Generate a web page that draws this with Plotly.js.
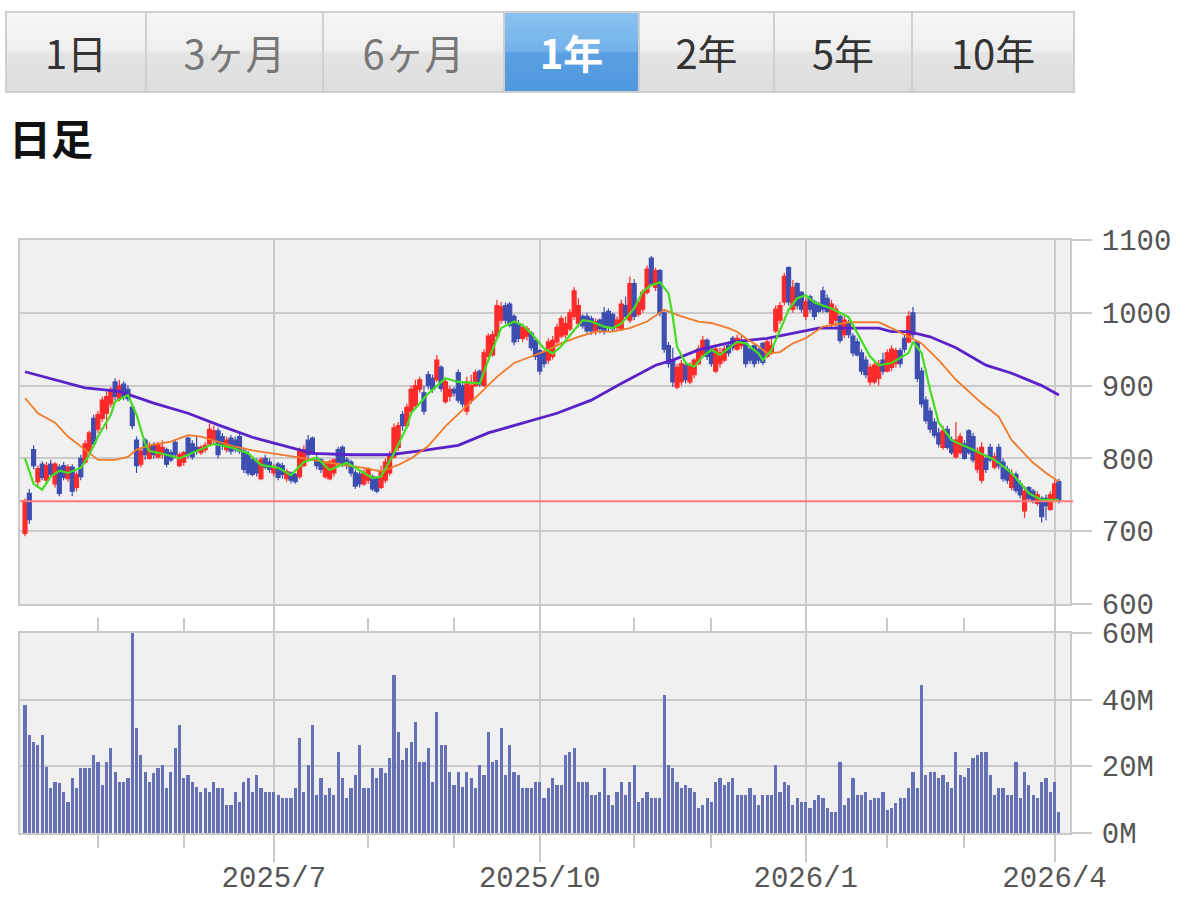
<!DOCTYPE html>
<html>
<head>
<meta charset="utf-8">
<script src="https://cdn.plot.ly/plotly-3.0.1.min.js"></script>
<style>
  html, body { margin:0; padding:0; background:#fff; overflow:hidden; }
  #wrap { position:relative; width:1200px; height:901px; }
  #chart { position:absolute; left:0; top:0; width:1200px; height:901px; }
  #tabs { position:absolute; left:5px; top:11px; width:1066px; height:78px; border:2px solid #cfcfcf; display:flex; z-index:2; }
  .tab { height:78px; display:flex; align-items:center; justify-content:center; font-family:"Noto Sans CJK JP","Noto Sans",sans-serif; font-size:40px; color:#333;
         background:linear-gradient(#f6f6f6 0%, #efefef 48%, #e4e4e4 52%, #dddddd 100%); border-right:2px solid #cfcfcf; box-sizing:border-box; }
  .tab:last-child { border-right:none; }
  .tab.dim { color:#777; }
  .tab.sel { color:#fff; font-weight:bold; background:linear-gradient(#8ac2f1 0%, #72b2ea 48%, #5a9fe2 52%, #4f98de 100%); }
  #title { position:absolute; left:9px; top:106px; font-family:"Noto Sans CJK JP","Noto Sans",sans-serif; font-size:42px; font-weight:bold; color:#111; z-index:2; }
</style>
</head>
<body>
<div id="wrap">
  <div id="chart"></div>
  <div id="tabs"></div>
  <div id="title">日足</div>
</div>
<script>
// ---- tab bar ----
const tabLabels = ['1日', '3ヶ月', '6ヶ月', '1年', '2年', '5年', '10年'];
const tabWidths = [140, 177, 181, 135, 135, 138, 160];
const tabClass  = ['', 'dim', 'dim', 'sel', '', '', ''];

// ---- x axis (trading-day positions) ----
const majorTickIdx   = [58, 120, 182, 240];
const majorTickLabel = ['2025/7', '2025/10', '2026/1', '2026/4'];
const minorTickIdx   = [17, 37, 80, 100, 142, 160, 201, 219];

// ---- daily candles (Apr 7 2025 .. Apr 2 2026) ----
const open = [
 697,752,812,768,792,770,792,765,788,790, 772,788,760,800,795,810,855,840,855,862,
 875,905,882,902,895,870,825,792,825,800, 818,802,805,812,808,822,790,795,828,820,
 815,808,812,820,825,838,830,812,828,825, 830,810,805,798,795,772,800,795,780,792,
 790,772,780,778,775,790,825,828,800,798, 775,772,780,812,815,798,795,780,778,765,
 770,775,772,760,770,780,802,815,860,845, 865,872,895,890,915,910,908,925,878,885,
 895,918,900,865,880,900,920,900,940,942, 968,990,1010,1012,995,985,965,968,972,962,
 948,945,935,940,960,968,970,978,995,985, 995,995,992,975,990,1000,1002,998,980,978,
 1010,990,1040,998,1005,1028,1075,1035,1058,1000, 955,935,898,905,928,905,915,930,942,962,
 950,920,930,935,955,965,950,955,958,950, 955,950,958,940,945,975,990,1015,1062,1005,
 1040,1028,995,1022,1015,1012,1030,1020,985,990, 995,970,985,968,960,945,935,905,905,910,
 935,920,925,930,948,965,960,1000,960,920, 880,865,850,835,815,840,825,802,808,820,
 838,830,785,770,800,815,788,815,795,785, 760,778,765,728,760,755,738,745,745,730,
 745,768];
const high = [
 745,758,818,790,796,795,798,795,792,795, 792,792,782,805,825,838,860,865,885,892,
 898,910,908,906,900,875,830,815,828,822, 822,823,825,815,812,826,808,810,830,825,
 830,818,822,848,845,842,835,830,832,830, 833,815,810,802,800,802,805,800,792,795,
 794,785,782,780,815,818,832,830,805,800, 795,798,800,816,818,802,798,784,782,785,
 788,778,775,790,800,810,848,850,865,875, 900,908,912,900,920,915,942,928,910,900,
 898,922,905,912,915,922,922,950,972,975, 1018,1015,1014,1015,998,990,985,982,975,966,
 950,948,965,968,985,996,995,1005,1035,1020, 998,1000,996,992,992,1008,1006,1000,995,1018,
 1022,1050,1046,1020,1032,1065,1078,1062,1060,1002, 960,952,930,935,932,932,938,955,968,965,
 953,955,952,955,958,968,970,968,960,952, 958,952,960,965,965,1010,1015,1055,1064,1045,
 1042,1030,1020,1025,1018,1015,1036,1025,1018,1010, 998,995,990,972,965,950,940,930,932,935,
 945,950,955,952,952,970,1002,1008,962,925, 885,870,855,842,845,845,830,850,835,825,
 840,835,815,822,805,820,808,820,800,790, 785,782,770,762,762,758,755,748,750,755,
 770,772];
const low = [
 693,710,785,760,770,765,775,760,748,770, 768,748,755,770,792,805,815,835,850,840,
 870,880,878,880,878,840,780,788,798,798, 800,800,800,788,795,800,788,790,800,798,
 805,805,808,818,820,800,812,808,805,808, 806,780,776,775,775,770,785,780,775,770,
 772,768,766,765,772,788,800,805,785,780, 772,770,775,790,788,785,775,758,760,762,
 765,755,752,758,766,776,800,810,838,842, 860,868,890,860,895,890,905,892,875,878,
 885,876,870,860,875,898,898,898,938,940, 965,985,985,980,955,960,960,962,948,935,
 915,925,930,936,955,965,965,975,990,980, 978,972,970,970,972,970,975,975,976,975,
 990,986,990,995,1000,1025,1036,1030,995,945, 925,898,895,900,903,902,910,928,940,935,
 926,917,925,932,940,948,948,950,925,930, 925,930,928,938,942,972,985,1010,1010,1000,
 1005,1000,990,1000,990,1000,1000,1000,980,980, 958,965,965,940,940,915,910,900,902,900,
 915,918,920,925,925,945,958,965,905,870, 848,835,828,815,812,812,805,800,805,798,
 805,794,780,766,780,795,785,785,768,765, 756,752,745,718,740,738,735,712,715,728,
 740,738];
const close = [
 742,716,790,786,774,790,778,792,752,774, 788,755,778,775,820,835,820,860,880,885,
 895,885,900,885,882,845,790,810,805,818, 805,820,815,792,798,805,805,808,805,802,
 810,815,818,840,838,805,818,825,810,812, 810,785,780,778,780,798,788,785,788,774,
 778,782,770,768,810,812,805,808,790,785, 792,795,798,795,792,790,780,762,765,780,
 785,758,755,782,795,805,842,845,845,870, 895,900,908,865,900,895,935,896,905,895,
 890,880,875,905,900,918,902,945,968,970, 1010,1008,990,983,960,965,980,978,952,940,
 920,930,960,962,980,992,985,1000,1030,1010, 982,975,975,988,978,975,980,978,990,1012,
 995,1040,995,1015,1028,1060,1040,1058,1000,950, 930,905,925,930,908,928,935,950,962,940,
 930,950,945,950,945,952,965,962,930,935, 930,935,932,960,955,1005,1010,1050,1015,1035,
 1010,1005,1015,1005,995,1002,1005,1002,1012,1005, 962,990,970,945,942,920,915,925,928,930,
 920,945,950,948,930,950,995,970,910,875, 852,840,832,820,838,815,808,825,830,800,
 808,798,810,815,785,798,802,790,772,770, 778,756,750,755,745,742,750,720,735,750,
 765,741];

// ---- daily volume (millions of shares) ----
const volume = [
 38.4,29.4,27.4,26.4,29.4,19.9,13.4,15.4,14.9,12.4, 9.4,16.4,13.4,19.4,19.4,19.4,23.4,21.4,14.4,21.4,
 25.4,18.4,15.4,15.4,16.4,60.0,31.4,23.4,18.4,15.4, 17.9,19.4,20.4,13.4,18.4,25.4,32.4,16.4,17.4,15.4,
 13.9,12.4,13.4,12.4,15.4,13.4,13.4,8.4,8.4,12.4, 9.4,15.4,16.4,12.4,17.4,13.4,12.4,12.4,12.4,11.4,
 10.4,10.4,10.4,13.4,28.4,12.4,20.4,32.4,11.4,16.4, 11.4,13.4,11.4,24.4,16.4,10.4,13.4,17.4,26.4,13.4,
 13.4,19.4,16.4,19.4,17.9,22.4,47.4,30.4,22.0,25.4, 27.4,33.4,21.4,21.4,25.4,15.4,36.4,26.4,26.4,18.4,
 14.4,18.4,13.9,18.4,16.4,13.4,20.4,17.4,30.4,21.4, 22.0,31.4,17.4,26.4,18.4,17.4,13.4,13.4,13.4,15.4,
 15.4,10.4,13.4,16.4,14.4,14.4,23.4,24.4,25.4,15.4, 15.4,15.4,11.4,11.4,12.4,19.4,11.4,8.4,12.4,15.4,
 11.4,15.4,20.4,9.4,10.4,12.4,10.4,10.4,10.4,41.4, 20.4,19.4,15.4,13.4,14.4,13.4,12.4,7.4,8.4,10.4,
 9.4,15.4,16.4,14.4,15.4,16.4,11.4,11.4,11.4,13.4, 11.4,8.4,11.4,11.4,11.4,20.4,12.4,15.4,14.4,8.4,
 10.4,9.4,9.4,7.4,9.9,11.4,10.4,7.4,6.4,6.4, 21.4,8.4,10.4,16.4,11.4,11.4,12.4,9.9,10.4,10.4,
 12.4,6.9,7.4,8.9,10.4,10.4,13.4,18.4,13.4,44.4, 17.4,18.4,18.4,16.4,17.4,15.4,13.4,24.4,17.4,16.9,
 19.4,22.4,23.4,24.4,24.4,17.4,11.4,13.4,13.4,11.4, 11.4,21.4,10.4,18.4,14.4,11.4,10.4,15.4,16.4,12.4,
 15.4,6.4];

// ---- moving averages (trading-day position, value) ----
const ma5Idx = [0,2,4,6,8,10,13,15,17,20,21,24,26,28,29,33,36,41,44,48,52,55,59,62,65,68,71,75,79,81,83,86,89,90,94,98,101,106,108,111,114,116,118,121,123,125,128,130,132,135,137,139,142,144,146,148,150,151,152,154,156,158,160,162,164,166,168,171,172,174,176,178,180,182,184,188,192,194,197,199,202,206,207,209,211,213,216,221,226,230,234,237,241];
const ma5Val = [800,765,757,775,783,780,787,805,830,860,878,887,860,820,810,805,800,812,820,815,807,791,787,777,795,801,784,794,780,773,775,807,843,862,889,910,905,903,935,979,988,983,972,951,944,954,976,990,988,981,979,985,1006,1029,1038,1042,1027,995,953,931,926,940,949,942,951,960,958,944,935,949,976,1004,1020,1024,1014,1006,994,972,940,928,931,945,960,945,894,849,825,812,798,780,752,743,743];

const ma25Idx = [0,3,7,10,14,17,21,24,26,29,34,38,41,45,49,53,55,63,71,79,83,87,90,94,98,102,106,110,114,118,122,125,129,133,137,141,145,149,153,157,160,164,166,168,171,173,176,179,182,186,192,199,202,206,209,213,217,223,227,230,235,238,241];
const ma25Val = [883,862,849,830,812,798,798,802,812,818,823,832,830,823,816,811,809,802,794,787,782,791,800,817,844,866,889,912,931,940,949,958,967,974,974,979,988,1004,995,988,986,979,974,965,954,944,946,958,965,981,987,987,979,967,958,935,908,876,857,825,794,780,768];

const ma75Idx = [0,7,14,22,30,38,45,53,63,67,76,85,93,101,108,116,124,132,139,147,151,157,165,173,181,185,199,202,206,211,217,224,230,237,241];
const ma75Val = [919,908,897,892,876,862,846,829,814,807,805,805,811,818,835,849,862,880,903,928,935,949,960,965,974,979,979,974,974,967,952,928,917,900,887];

const lastPrice = 741;

// ---- build ----
const tabsEl = document.getElementById('tabs');
tabLabels.forEach((t, k) => {
  const d = document.createElement('div');
  d.className = 'tab ' + tabClass[k];
  d.style.width = tabWidths[k] + 'px';
  d.textContent = t;
  tabsEl.appendChild(d);
});

const dayPos = close.map((_, i) => i);
const tickFont = {family:'Liberation Mono, DejaVu Sans Mono, monospace', size:29, color:'#555'};
const GRID = '#cacaca';

const traces = [
  {
    type:'candlestick', x:dayPos, open:open, high:high, low:low, close:close,
    xaxis:'x', yaxis:'y', hoverinfo:'skip', whiskerwidth:0,
    increasing:{line:{color:'#ff2a2a', width:1.2}, fillcolor:'#ff2a2a'},
    decreasing:{line:{color:'#3e4db0', width:1.2}, fillcolor:'#3e4db0'}
  },
  {type:'scatter', mode:'lines', x:ma75Idx, y:ma75Val, xaxis:'x', yaxis:'y', hoverinfo:'skip',
   line:{color:'#5a22c8', width:2.8}},
  {type:'scatter', mode:'lines', x:ma25Idx, y:ma25Val, xaxis:'x', yaxis:'y', hoverinfo:'skip',
   line:{color:'#f07a2a', width:1.8}},
  {type:'scatter', mode:'lines', x:ma5Idx, y:ma5Val, xaxis:'x', yaxis:'y', hoverinfo:'skip',
   line:{color:'#44dd22', width:2.2}},
  {type:'bar', x:dayPos, y:volume, xaxis:'x', yaxis:'y2', hoverinfo:'skip',
   width:0.74, marker:{color:'#6670b4', line:{width:0}}}
];

const yCommon = {
  side:'right', ticks:'outside', ticklen:20, tickwidth:2, tickcolor:GRID,
  showgrid:true, gridcolor:GRID, gridwidth:2, zeroline:false,
  showline:true, linecolor:GRID, linewidth:2, mirror:true,
  tickfont:tickFont, ticklabelstandoff:4, fixedrange:true
};

const layout = {
  width:1200, height:901,
  margin:{l:20, r:130, t:240, b:68},
  paper_bgcolor:'rgba(0,0,0,0)', plot_bgcolor:'#f0f0f0',
  showlegend:false, boxgap:0.08, boxgroupgap:0, bargap:0,
  xaxis:{
    anchor:'y2', range:[-1.17, 243.6], tickmode:'array',
    tickvals:majorTickIdx, ticktext:majorTickLabel,
    ticks:'outside', ticklen:27, tickwidth:2, tickcolor:GRID,
    showgrid:true, gridcolor:GRID, gridwidth:2, zeroline:false,
    showline:true, linecolor:GRID, linewidth:2, mirror:'all',
    tickfont:tickFont, ticklabelstandoff:-10, rangeslider:{visible:false}, fixedrange:true,
    minor:{tickmode:'array', tickvals:minorTickIdx, ticks:'outside', ticklen:13, tickwidth:2, tickcolor:GRID, showgrid:false}
  },
  yaxis:Object.assign({}, yCommon, {domain:[0.3862, 1], range:[600, 1100], dtick:100, tick0:600}),
  yaxis2:Object.assign({}, yCommon, {domain:[0, 0.3373], range:[0, 60], dtick:20, tick0:0, ticksuffix:'M'}),
  shapes:[
    {type:'line', xref:'paper', yref:'y', x0:0, x1:1.003, y0:lastPrice, y1:lastPrice,
     line:{color:'#ff7878', width:2}, layer:'above'}
  ]
};

Plotly.newPlot('chart', traces, layout, {staticPlot:true, displayModeBar:false});
</script>
</body>
</html>
